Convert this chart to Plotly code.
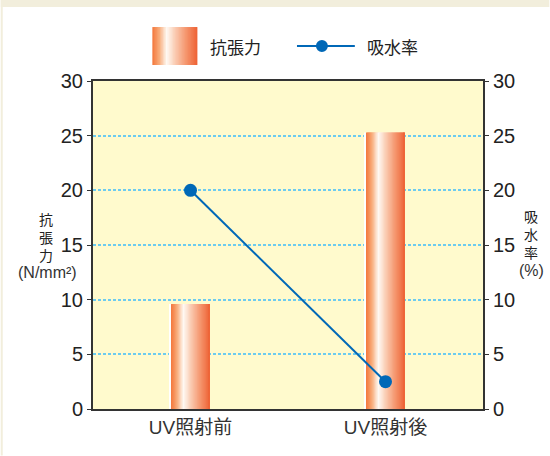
import plotly.graph_objects as go

# ---- data ----
categories = ["UV照射前", "UV照射後"]
tensile = [9.6, 25.3]          # 抗張力 (N/mm²)
absorption = [20.0, 2.5]       # 吸水率 (%)
ticks = [0, 5, 10, 15, 20, 25, 30]

# ---- layout geometry (pixels) ----
W, H = 550, 456
L, R, T, B = 92.5, 66.5, 81, 46.6
PW, PH = W - L - R, H - T - B

def px(x):
    return (x - L) / PW

def py(y):
    return (H - B - y) / PH

FONT = "Liberation Sans, Arial, Noto Sans CJK JP, sans-serif"
CJK = "Noto Sans CJK JP, sans-serif"

# gradient stops for the bars
stops = [(0.0, (243, 118, 58)), (0.15, (248, 170, 120)), (0.32, (255, 250, 244)),
         (0.5, (250, 205, 180)), (0.75, (245, 150, 110)), (1.0, (238, 98, 52))]

def grad(t):
    for (t0, c0), (t1, c1) in zip(stops, stops[1:]):
        if t0 <= t <= t1:
            f = (t - t0) / (t1 - t0)
            return "rgb(%d,%d,%d)" % tuple(round(a + (b - a) * f) for a, b in zip(c0, c1))
    return "rgb(%d,%d,%d)" % stops[-1][1]

fig = go.Figure()

BW = 0.2
N = 30
# thin white edge on left side
fig.add_trace(go.Bar(x=categories, y=tensile, width=0.008, offset=-BW / 2 - 0.008,
                     marker=dict(color="white", line=dict(width=0)),
                     showlegend=False, hoverinfo="skip"))
for i in range(N):
    w = BW / N * (2.0 if i < N - 1 else 1.0)
    fig.add_trace(go.Bar(x=categories, y=tensile, width=w,
                         offset=-BW / 2 + i * BW / N,
                         marker=dict(color=grad((i + 0.5) / N), line=dict(width=0)),
                         showlegend=False, hoverinfo="skip", name="抗張力"))

fig.add_trace(go.Scatter(x=categories, y=absorption, yaxis="y2", mode="lines+markers",
                         line=dict(color="#0068B7", width=2),
                         marker=dict(color="#0068B7", size=13),
                         showlegend=False, name="吸水率"))

shapes = []
# beige top band and left strip
shapes.append(dict(type="rect", xref="paper", yref="paper", x0=px(0), x1=px(W), y0=py(7), y1=py(0),
                   fillcolor="#F2EEDC", line=dict(width=0), layer="below"))
shapes.append(dict(type="rect", xref="paper", yref="paper", x0=px(0), x1=px(2), y0=py(H), y1=py(0),
                   fillcolor="#F2EEDC", line=dict(width=0), layer="below"))
# legend swatch (gradient)
sx0, sx1, sy0, sy1 = 152, 197, 27, 65
M = 30
for i in range(M):
    shapes.append(dict(type="rect", xref="paper", yref="paper",
                       x0=px(sx0 + (sx1 - sx0) * i / M),
                       x1=px(sx0 + (sx1 - sx0) * min(i + 2, M) / M),
                       y0=py(sy1), y1=py(sy0), fillcolor=grad((i + 0.5) / M), line=dict(width=0)))
# legend line + marker
shapes.append(dict(type="line", xref="paper", yref="paper", x0=px(297), x1=px(355), y0=py(46), y1=py(46),
                   line=dict(color="#0068B7", width=2)))
shapes.append(dict(type="circle", xref="paper", yref="paper", x0=px(316), x1=px(328), y0=py(52), y1=py(40),
                   fillcolor="#0068B7", line=dict(width=0)))

cjk_font = dict(family=CJK, size=17, color="#222")
title_font = dict(family=CJK, size=14, color="#222")
small_font = dict(family=FONT, size=16, color="#333")
annotations = [
    dict(text="抗張力", x=px(208), y=py(46), xanchor="left", yanchor="middle", font=cjk_font),
    dict(text="吸水率", x=px(365), y=py(46), xanchor="left", yanchor="middle", font=cjk_font),
    dict(text="抗<br>張<br>力", x=px(45), y=py(237), xanchor="center", yanchor="middle", font=title_font),
    dict(text="(N/mm²)", x=px(47), y=py(273), xanchor="center", yanchor="middle", font=small_font),
    dict(text="吸<br>水<br>率", x=px(532), y=py(234), xanchor="center", yanchor="middle", font=title_font),
    dict(text="(%)", x=px(532), y=py(271), xanchor="center", yanchor="middle", font=small_font),
]
for a in annotations:
    a.update(xref="paper", yref="paper", showarrow=False)

axis_common = dict(range=[0, 30], tickvals=ticks, ticks="outside", ticklen=4, tickcolor="#333",
                   tickfont=dict(family=FONT, size=20, color="#222"), showline=True,
                   linecolor="#333", linewidth=2, zeroline=False, fixedrange=True)

fig.update_layout(
    width=W, height=H, autosize=False,
    margin=dict(l=L, r=R, t=T, b=B, pad=0),
    paper_bgcolor="white", plot_bgcolor="#FFFACD",
    barmode="overlay", showlegend=False,
    xaxis=dict(type="category", showline=True, mirror=True, linecolor="#333", linewidth=2,
               ticks="", showgrid=False, tickfont=dict(family=FONT, size=19, color="#333")),
    yaxis=dict(**axis_common, side="left", showgrid=True, gridcolor="#6CCBEF", gridwidth=2,
               griddash="3px,2px"),
    yaxis2=dict(**axis_common, side="right", overlaying="y", showgrid=False),
    shapes=shapes, annotations=annotations,
)
fig.write_html("out.html")
